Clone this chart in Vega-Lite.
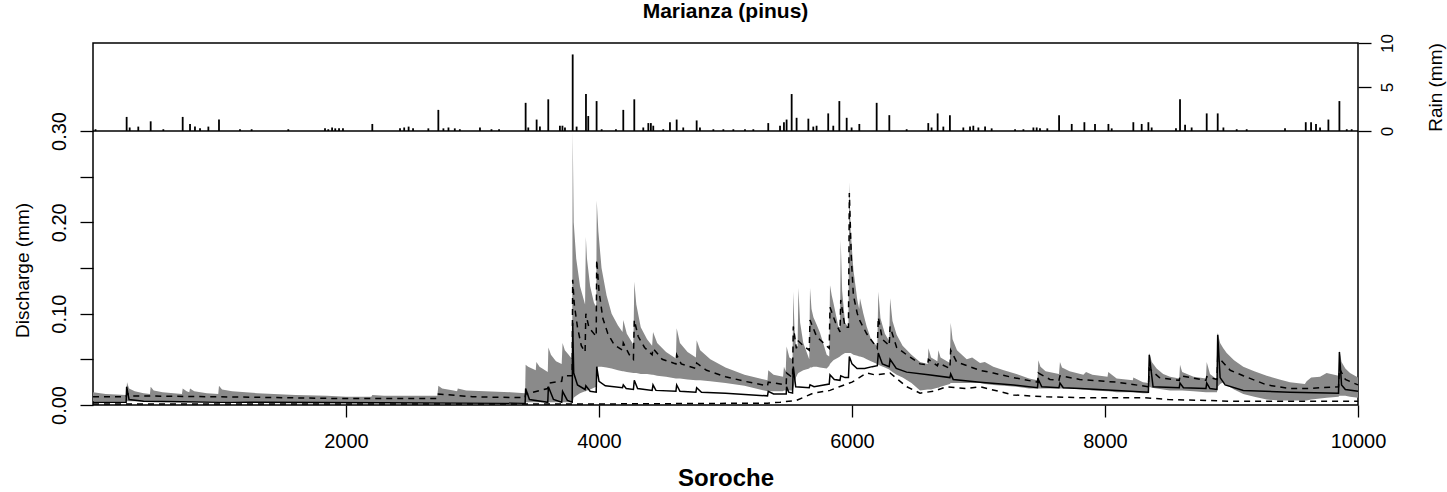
{
  "$schema": "https://vega.github.io/schema/vega-lite/v6.json",
  "width": 1265,
  "height": 362,
  "autosize": "none",
  "padding": {"left": 93, "top": 43, "right": 89, "bottom": 87},
  "background": "white",
  "title": {"text": "Marianza (pinus)", "font": "Liberation Sans", "fontSize": 21, "fontWeight": "bold", "color": "black", "offset": 12, "anchor": "middle"},
  "config": {
    "view": {"stroke": "black", "strokeWidth": 1.5},
    "axis": {"labelFont": "Liberation Sans", "titleFont": "Liberation Sans", "labelColor": "black", "titleColor": "black", "tickColor": "black", "labelFontSize": 20, "titleFontSize": 19, "titleFontWeight": "normal", "grid": false, "domain": false, "tickWidth": 1.3}
  },
  "datasets": {
    "band": [
      {"x": 0, "lo": 0.004, "hi": 0.014}, {"x": 100, "lo": 0.004, "hi": 0.012}, {"x": 262, "lo": 0.004, "hi": 0.011}, {"x": 269, "lo": 0.004, "hi": 0.025}, {"x": 285, "lo": 0.004, "hi": 0.018}, {"x": 330, "lo": 0.004, "hi": 0.015}, {"x": 400, "lo": 0.004, "hi": 0.013}, {"x": 450, "lo": 0.004, "hi": 0.012}, {"x": 456, "lo": 0.004, "hi": 0.02}, {"x": 480, "lo": 0.004, "hi": 0.016}, {"x": 550, "lo": 0.004, "hi": 0.014}, {"x": 703, "lo": 0.004, "hi": 0.012}, {"x": 709, "lo": 0.004, "hi": 0.018}, {"x": 740, "lo": 0.004, "hi": 0.015}, {"x": 761, "lo": 0.004, "hi": 0.014}, {"x": 767, "lo": 0.004, "hi": 0.018}, {"x": 800, "lo": 0.004, "hi": 0.015}, {"x": 900, "lo": 0.004, "hi": 0.013}, {"x": 990, "lo": 0.004, "hi": 0.012}, {"x": 996, "lo": 0.004, "hi": 0.021}, {"x": 1020, "lo": 0.004, "hi": 0.017}, {"x": 1100, "lo": 0.004, "hi": 0.015}, {"x": 1300, "lo": 0.003, "hi": 0.013}, {"x": 1600, "lo": 0.003, "hi": 0.011}, {"x": 1850, "lo": 0.003, "hi": 0.01}, {"x": 2000, "lo": 0.003, "hi": 0.009}, {"x": 2200, "lo": 0.003, "hi": 0.009}, {"x": 2208, "lo": 0.003, "hi": 0.011}, {"x": 2300, "lo": 0.003, "hi": 0.01}, {"x": 2500, "lo": 0.003, "hi": 0.01}, {"x": 2722, "lo": 0.003, "hi": 0.01}, {"x": 2730, "lo": 0.003, "hi": 0.021}, {"x": 2760, "lo": 0.003, "hi": 0.018}, {"x": 2850, "lo": 0.003, "hi": 0.016}, {"x": 2878, "lo": 0.003, "hi": 0.015}, {"x": 2884, "lo": 0.003, "hi": 0.018}, {"x": 2950, "lo": 0.003, "hi": 0.016}, {"x": 3100, "lo": 0.003, "hi": 0.015}, {"x": 3300, "lo": 0.003, "hi": 0.014}, {"x": 3416, "lo": 0.003, "hi": 0.013},
      {"x": 3420, "lo": 0.003, "hi": 0.044}, {"x": 3440, "lo": 0.003, "hi": 0.042}, {"x": 3500, "lo": 0.003, "hi": 0.038}, {"x": 3505, "lo": 0.003, "hi": 0.047}, {"x": 3530, "lo": 0.003, "hi": 0.042}, {"x": 3595, "lo": 0.003, "hi": 0.036}, {"x": 3600, "lo": 0.003, "hi": 0.063}, {"x": 3620, "lo": 0.003, "hi": 0.055}, {"x": 3660, "lo": 0.003, "hi": 0.048}, {"x": 3705, "lo": 0.003, "hi": 0.045}, {"x": 3712, "lo": 0.003, "hi": 0.068}, {"x": 3730, "lo": 0.003, "hi": 0.06}, {"x": 3760, "lo": 0.003, "hi": 0.055}, {"x": 3788, "lo": 0.003, "hi": 0.05}, {"x": 3792, "lo": 0.003, "hi": 0.3}, {"x": 3800, "lo": 0.008, "hi": 0.2}, {"x": 3820, "lo": 0.01, "hi": 0.16}, {"x": 3850, "lo": 0.013, "hi": 0.13}, {"x": 3890, "lo": 0.015, "hi": 0.11}, {"x": 3896, "lo": 0.015, "hi": 0.184}, {"x": 3905, "lo": 0.016, "hi": 0.16}, {"x": 3930, "lo": 0.017, "hi": 0.13}, {"x": 3960, "lo": 0.019, "hi": 0.112}, {"x": 3978, "lo": 0.02, "hi": 0.107}, {"x": 3982, "lo": 0.04, "hi": 0.224}, {"x": 3995, "lo": 0.042, "hi": 0.19}, {"x": 4020, "lo": 0.042, "hi": 0.15}, {"x": 4060, "lo": 0.041, "hi": 0.12}, {"x": 4100, "lo": 0.04, "hi": 0.1}, {"x": 4150, "lo": 0.038, "hi": 0.087}, {"x": 4186, "lo": 0.037, "hi": 0.08}, {"x": 4192, "lo": 0.037, "hi": 0.093}, {"x": 4220, "lo": 0.036, "hi": 0.078}, {"x": 4272, "lo": 0.035, "hi": 0.066}, {"x": 4279, "lo": 0.035, "hi": 0.135}, {"x": 4295, "lo": 0.035, "hi": 0.11}, {"x": 4330, "lo": 0.034, "hi": 0.085}, {"x": 4380, "lo": 0.034, "hi": 0.072}, {"x": 4420, "lo": 0.033, "hi": 0.065}, {"x": 4427, "lo": 0.033, "hi": 0.08}, {"x": 4460, "lo": 0.032, "hi": 0.068}, {"x": 4530, "lo": 0.031, "hi": 0.058}, {"x": 4608, "lo": 0.029, "hi": 0.051}, {"x": 4614, "lo": 0.029, "hi": 0.084}, {"x": 4640, "lo": 0.029, "hi": 0.068}, {"x": 4700, "lo": 0.028, "hi": 0.058}, {"x": 4766, "lo": 0.027, "hi": 0.052}, {"x": 4772, "lo": 0.027, "hi": 0.071}, {"x": 4800, "lo": 0.027, "hi": 0.06}, {"x": 4880, "lo": 0.026, "hi": 0.05}, {"x": 5000, "lo": 0.024, "hi": 0.041}, {"x": 5150, "lo": 0.021, "hi": 0.033}, {"x": 5332, "lo": 0.015, "hi": 0.027}, {"x": 5338, "lo": 0.015, "hi": 0.038}, {"x": 5380, "lo": 0.015, "hi": 0.033}, {"x": 5455, "lo": 0.015, "hi": 0.031}, {"x": 5462, "lo": 0.016, "hi": 0.042}, {"x": 5476, "lo": 0.016, "hi": 0.037}, {"x": 5483, "lo": 0.016, "hi": 0.064}, {"x": 5505, "lo": 0.016, "hi": 0.052}, {"x": 5530, "lo": 0.016, "hi": 0.05},
      {"x": 5536, "lo": 0.018, "hi": 0.124}, {"x": 5545, "lo": 0.024, "hi": 0.085}, {"x": 5557, "lo": 0.03, "hi": 0.064}, {"x": 5570, "lo": 0.034, "hi": 0.064}, {"x": 5576, "lo": 0.035, "hi": 0.128}, {"x": 5590, "lo": 0.036, "hi": 0.09}, {"x": 5615, "lo": 0.038, "hi": 0.068}, {"x": 5662, "lo": 0.04, "hi": 0.05}, {"x": 5668, "lo": 0.041, "hi": 0.128}, {"x": 5680, "lo": 0.041, "hi": 0.105}, {"x": 5695, "lo": 0.042, "hi": 0.096}, {"x": 5721, "lo": 0.042, "hi": 0.088}, {"x": 5747, "lo": 0.041, "hi": 0.079}, {"x": 5800, "lo": 0.04, "hi": 0.055}, {"x": 5820, "lo": 0.043, "hi": 0.053}, {"x": 5826, "lo": 0.045, "hi": 0.131}, {"x": 5840, "lo": 0.047, "hi": 0.12}, {"x": 5853, "lo": 0.049, "hi": 0.112}, {"x": 5892, "lo": 0.052, "hi": 0.086}, {"x": 5905, "lo": 0.053, "hi": 0.085}, {"x": 5911, "lo": 0.054, "hi": 0.181}, {"x": 5922, "lo": 0.055, "hi": 0.125}, {"x": 5945, "lo": 0.057, "hi": 0.09}, {"x": 5972, "lo": 0.057, "hi": 0.085}, {"x": 5979, "lo": 0.057, "hi": 0.244}, {"x": 5990, "lo": 0.057, "hi": 0.19}, {"x": 6011, "lo": 0.055, "hi": 0.148}, {"x": 6042, "lo": 0.054, "hi": 0.115}, {"x": 6057, "lo": 0.053, "hi": 0.105}, {"x": 6063, "lo": 0.053, "hi": 0.117}, {"x": 6090, "lo": 0.052, "hi": 0.1}, {"x": 6116, "lo": 0.05, "hi": 0.086}, {"x": 6150, "lo": 0.048, "hi": 0.072}, {"x": 6200, "lo": 0.045, "hi": 0.064}, {"x": 6208, "lo": 0.044, "hi": 0.124}, {"x": 6225, "lo": 0.043, "hi": 0.095}, {"x": 6260, "lo": 0.041, "hi": 0.078}, {"x": 6294, "lo": 0.039, "hi": 0.07}, {"x": 6301, "lo": 0.038, "hi": 0.117}, {"x": 6320, "lo": 0.036, "hi": 0.092}, {"x": 6353, "lo": 0.033, "hi": 0.077}, {"x": 6400, "lo": 0.03, "hi": 0.065}, {"x": 6470, "lo": 0.024, "hi": 0.055}, {"x": 6538, "lo": 0.016, "hi": 0.047}, {"x": 6598, "lo": 0.017, "hi": 0.045}, {"x": 6604, "lo": 0.017, "hi": 0.062}, {"x": 6625, "lo": 0.017, "hi": 0.052}, {"x": 6675, "lo": 0.019, "hi": 0.048}, {"x": 6683, "lo": 0.019, "hi": 0.06}, {"x": 6700, "lo": 0.02, "hi": 0.052}, {"x": 6774, "lo": 0.023, "hi": 0.046}, {"x": 6780, "lo": 0.024, "hi": 0.09}, {"x": 6795, "lo": 0.024, "hi": 0.072}, {"x": 6830, "lo": 0.024, "hi": 0.06}, {"x": 6907, "lo": 0.024, "hi": 0.05}, {"x": 6950, "lo": 0.024, "hi": 0.052}, {"x": 7012, "lo": 0.024, "hi": 0.046}, {"x": 7050, "lo": 0.023, "hi": 0.047}, {"x": 7117, "lo": 0.022, "hi": 0.042}, {"x": 7200, "lo": 0.021, "hi": 0.038}, {"x": 7300, "lo": 0.02, "hi": 0.034}, {"x": 7400, "lo": 0.018, "hi": 0.029}, {"x": 7466, "lo": 0.018, "hi": 0.027}, {"x": 7473, "lo": 0.018, "hi": 0.049}, {"x": 7490, "lo": 0.018, "hi": 0.042}, {"x": 7530, "lo": 0.018, "hi": 0.037}, {"x": 7636, "lo": 0.018, "hi": 0.034}, {"x": 7644, "lo": 0.018, "hi": 0.047}, {"x": 7660, "lo": 0.018, "hi": 0.041}, {"x": 7720, "lo": 0.018, "hi": 0.037}, {"x": 7829, "lo": 0.017, "hi": 0.033}, {"x": 7850, "lo": 0.017, "hi": 0.036}, {"x": 7900, "lo": 0.016, "hi": 0.033}, {"x": 8020, "lo": 0.015, "hi": 0.031}, {"x": 8026, "lo": 0.015, "hi": 0.036}, {"x": 8092, "lo": 0.014, "hi": 0.029}, {"x": 8220, "lo": 0.014, "hi": 0.027}, {"x": 8224, "lo": 0.014, "hi": 0.03}, {"x": 8300, "lo": 0.013, "hi": 0.025}, {"x": 8343, "lo": 0.013, "hi": 0.024}, {"x": 8350, "lo": 0.02, "hi": 0.057}, {"x": 8370, "lo": 0.019, "hi": 0.047}, {"x": 8408, "lo": 0.018, "hi": 0.04}, {"x": 8460, "lo": 0.017, "hi": 0.034}, {"x": 8514, "lo": 0.016, "hi": 0.031}, {"x": 8587, "lo": 0.016, "hi": 0.029}, {"x": 8593, "lo": 0.016, "hi": 0.044}, {"x": 8610, "lo": 0.016, "hi": 0.036}, {"x": 8700, "lo": 0.015, "hi": 0.031}, {"x": 8798, "lo": 0.014, "hi": 0.029}, {"x": 8804, "lo": 0.014, "hi": 0.047}, {"x": 8830, "lo": 0.014, "hi": 0.034}, {"x": 8885, "lo": 0.014, "hi": 0.028}, {"x": 8891, "lo": 0.02, "hi": 0.079}, {"x": 8910, "lo": 0.023, "hi": 0.068}, {"x": 8935, "lo": 0.025, "hi": 0.062}, {"x": 8962, "lo": 0.022, "hi": 0.057}, {"x": 9020, "lo": 0.017, "hi": 0.049}, {"x": 9093, "lo": 0.012, "hi": 0.042}, {"x": 9180, "lo": 0.009, "hi": 0.037}, {"x": 9278, "lo": 0.006, "hi": 0.032}, {"x": 9380, "lo": 0.005, "hi": 0.028}, {"x": 9462, "lo": 0.005, "hi": 0.025}, {"x": 9580, "lo": 0.005, "hi": 0.023}, {"x": 9594, "lo": 0.005, "hi": 0.026}, {"x": 9630, "lo": 0.006, "hi": 0.03}, {"x": 9700, "lo": 0.007, "hi": 0.031}, {"x": 9752, "lo": 0.008, "hi": 0.035}, {"x": 9846, "lo": 0.009, "hi": 0.032}, {"x": 9853, "lo": 0.01, "hi": 0.06}, {"x": 9870, "lo": 0.01, "hi": 0.047}, {"x": 9900, "lo": 0.01, "hi": 0.04}, {"x": 9937, "lo": 0.009, "hi": 0.035}, {"x": 10000, "lo": 0.008, "hi": 0.03}
    ],
    "mid": [
      {"x": 0, "v": 0.009}, {"x": 262, "v": 0.009}, {"x": 269, "v": 0.013}, {"x": 300, "v": 0.01}, {"x": 1000, "v": 0.009}, {"x": 2000, "v": 0.007}, {"x": 2722, "v": 0.007}, {"x": 2730, "v": 0.012}, {"x": 3000, "v": 0.009}, {"x": 3416, "v": 0.008}, {"x": 3420, "v": 0.012}, {"x": 3595, "v": 0.018}, {"x": 3600, "v": 0.024}, {"x": 3705, "v": 0.026}, {"x": 3712, "v": 0.032}, {"x": 3788, "v": 0.032}, {"x": 3792, "v": 0.137}, {"x": 3805, "v": 0.11}, {"x": 3830, "v": 0.085}, {"x": 3860, "v": 0.065}, {"x": 3890, "v": 0.058}, {"x": 3896, "v": 0.1}, {"x": 3920, "v": 0.085}, {"x": 3978, "v": 0.075}, {"x": 3982, "v": 0.159}, {"x": 4000, "v": 0.125}, {"x": 4030, "v": 0.095}, {"x": 4070, "v": 0.078}, {"x": 4120, "v": 0.066}, {"x": 4186, "v": 0.06}, {"x": 4192, "v": 0.068}, {"x": 4240, "v": 0.055}, {"x": 4272, "v": 0.05}, {"x": 4279, "v": 0.093}, {"x": 4310, "v": 0.075}, {"x": 4360, "v": 0.063}, {"x": 4420, "v": 0.055}, {"x": 4427, "v": 0.062}, {"x": 4500, "v": 0.05}, {"x": 4608, "v": 0.045}, {"x": 4614, "v": 0.055}, {"x": 4650, "v": 0.045}, {"x": 4766, "v": 0.04}, {"x": 4772, "v": 0.046}, {"x": 4850, "v": 0.038}, {"x": 5000, "v": 0.031}, {"x": 5150, "v": 0.026}, {"x": 5332, "v": 0.021}, {"x": 5338, "v": 0.025}, {"x": 5480, "v": 0.022}, {"x": 5483, "v": 0.035}, {"x": 5530, "v": 0.03}, {"x": 5536, "v": 0.086}, {"x": 5560, "v": 0.062}, {"x": 5576, "v": 0.07}, {"x": 5615, "v": 0.065}, {"x": 5662, "v": 0.06}, {"x": 5668, "v": 0.093}, {"x": 5720, "v": 0.075}, {"x": 5820, "v": 0.062}, {"x": 5826, "v": 0.107}, {"x": 5870, "v": 0.09}, {"x": 5905, "v": 0.08}, {"x": 5911, "v": 0.115}, {"x": 5945, "v": 0.085}, {"x": 5972, "v": 0.085}, {"x": 5979, "v": 0.232}, {"x": 5995, "v": 0.16}, {"x": 6011, "v": 0.12}, {"x": 6042, "v": 0.1}, {"x": 6063, "v": 0.092}, {"x": 6116, "v": 0.078}, {"x": 6200, "v": 0.062}, {"x": 6208, "v": 0.096}, {"x": 6240, "v": 0.072}, {"x": 6294, "v": 0.065}, {"x": 6301, "v": 0.086}, {"x": 6353, "v": 0.063}, {"x": 6432, "v": 0.055}, {"x": 6538, "v": 0.045}, {"x": 6598, "v": 0.044}, {"x": 6604, "v": 0.05}, {"x": 6675, "v": 0.043}, {"x": 6683, "v": 0.046}, {"x": 6774, "v": 0.04}, {"x": 6780, "v": 0.06}, {"x": 6828, "v": 0.047}, {"x": 7012, "v": 0.038}, {"x": 7117, "v": 0.035}, {"x": 7276, "v": 0.03}, {"x": 7466, "v": 0.025}, {"x": 7473, "v": 0.035}, {"x": 7565, "v": 0.028}, {"x": 7636, "v": 0.027}, {"x": 7644, "v": 0.032}, {"x": 7800, "v": 0.028}, {"x": 8092, "v": 0.025}, {"x": 8343, "v": 0.02}, {"x": 8350, "v": 0.04}, {"x": 8430, "v": 0.03}, {"x": 8587, "v": 0.027}, {"x": 8593, "v": 0.032}, {"x": 8798, "v": 0.027}, {"x": 8804, "v": 0.031}, {"x": 8885, "v": 0.028}, {"x": 8891, "v": 0.053}, {"x": 8990, "v": 0.038}, {"x": 9093, "v": 0.032}, {"x": 9278, "v": 0.022}, {"x": 9460, "v": 0.018}, {"x": 9594, "v": 0.018}, {"x": 9846, "v": 0.02}, {"x": 9853, "v": 0.04}, {"x": 9900, "v": 0.028}, {"x": 10000, "v": 0.022}
    ],
    "sol": [
      {"x": 0, "v": 0.003}, {"x": 262, "v": 0.003}, {"x": 266, "v": 0.02}, {"x": 285, "v": 0.006}, {"x": 400, "v": 0.004}, {"x": 1000, "v": 0.003}, {"x": 3416, "v": 0.002}, {"x": 3420, "v": 0.018}, {"x": 3450, "v": 0.006}, {"x": 3595, "v": 0.003}, {"x": 3600, "v": 0.02}, {"x": 3640, "v": 0.006}, {"x": 3705, "v": 0.003}, {"x": 3712, "v": 0.015}, {"x": 3750, "v": 0.005}, {"x": 3788, "v": 0.003}, {"x": 3792, "v": 0.09}, {"x": 3800, "v": 0.035}, {"x": 3830, "v": 0.022}, {"x": 3890, "v": 0.017}, {"x": 3896, "v": 0.021}, {"x": 3930, "v": 0.015}, {"x": 3978, "v": 0.014}, {"x": 3982, "v": 0.042}, {"x": 4000, "v": 0.026}, {"x": 4050, "v": 0.021}, {"x": 4186, "v": 0.019}, {"x": 4192, "v": 0.022}, {"x": 4215, "v": 0.018}, {"x": 4272, "v": 0.017}, {"x": 4279, "v": 0.027}, {"x": 4305, "v": 0.018}, {"x": 4420, "v": 0.016}, {"x": 4427, "v": 0.022}, {"x": 4450, "v": 0.016}, {"x": 4608, "v": 0.015}, {"x": 4614, "v": 0.022}, {"x": 4640, "v": 0.015}, {"x": 4766, "v": 0.014}, {"x": 4772, "v": 0.019}, {"x": 4810, "v": 0.014}, {"x": 5000, "v": 0.013}, {"x": 5332, "v": 0.01}, {"x": 5338, "v": 0.015}, {"x": 5380, "v": 0.012}, {"x": 5480, "v": 0.012}, {"x": 5483, "v": 0.02}, {"x": 5500, "v": 0.014}, {"x": 5530, "v": 0.013}, {"x": 5536, "v": 0.042}, {"x": 5555, "v": 0.02}, {"x": 5662, "v": 0.019}, {"x": 5668, "v": 0.022}, {"x": 5700, "v": 0.02}, {"x": 5820, "v": 0.023}, {"x": 5826, "v": 0.033}, {"x": 5860, "v": 0.028}, {"x": 5905, "v": 0.027}, {"x": 5911, "v": 0.032}, {"x": 5945, "v": 0.03}, {"x": 5972, "v": 0.03}, {"x": 5979, "v": 0.053}, {"x": 6000, "v": 0.045}, {"x": 6040, "v": 0.04}, {"x": 6100, "v": 0.04}, {"x": 6160, "v": 0.042}, {"x": 6200, "v": 0.043}, {"x": 6208, "v": 0.057}, {"x": 6240, "v": 0.045}, {"x": 6294, "v": 0.042}, {"x": 6301, "v": 0.05}, {"x": 6350, "v": 0.04}, {"x": 6432, "v": 0.036}, {"x": 6604, "v": 0.033}, {"x": 6774, "v": 0.03}, {"x": 6780, "v": 0.034}, {"x": 6800, "v": 0.028}, {"x": 7012, "v": 0.025}, {"x": 7276, "v": 0.022}, {"x": 7466, "v": 0.019}, {"x": 7473, "v": 0.028}, {"x": 7500, "v": 0.02}, {"x": 7636, "v": 0.019}, {"x": 7644, "v": 0.024}, {"x": 7670, "v": 0.019}, {"x": 7803, "v": 0.018}, {"x": 8092, "v": 0.016}, {"x": 8343, "v": 0.014}, {"x": 8350, "v": 0.055}, {"x": 8380, "v": 0.02}, {"x": 8587, "v": 0.019}, {"x": 8593, "v": 0.024}, {"x": 8620, "v": 0.019}, {"x": 8798, "v": 0.018}, {"x": 8804, "v": 0.024}, {"x": 8830, "v": 0.018}, {"x": 8885, "v": 0.017}, {"x": 8891, "v": 0.077}, {"x": 8910, "v": 0.03}, {"x": 8950, "v": 0.022}, {"x": 9093, "v": 0.016}, {"x": 9462, "v": 0.014}, {"x": 9846, "v": 0.013}, {"x": 9853, "v": 0.058}, {"x": 9870, "v": 0.022}, {"x": 9900, "v": 0.017}, {"x": 10000, "v": 0.015}
    ],
    "ld": [
      {"x": 0, "v": 0.001}, {"x": 3800, "v": 0.001}, {"x": 5330, "v": 0.002}, {"x": 5431, "v": 0.003}, {"x": 5560, "v": 0.005}, {"x": 5695, "v": 0.013}, {"x": 5826, "v": 0.016}, {"x": 5900, "v": 0.02}, {"x": 6000, "v": 0.025}, {"x": 6116, "v": 0.035}, {"x": 6182, "v": 0.033}, {"x": 6301, "v": 0.035}, {"x": 6432, "v": 0.02}, {"x": 6538, "v": 0.013}, {"x": 6643, "v": 0.015}, {"x": 6749, "v": 0.02}, {"x": 6907, "v": 0.018}, {"x": 7012, "v": 0.02}, {"x": 7276, "v": 0.011}, {"x": 7539, "v": 0.009}, {"x": 7803, "v": 0.008}, {"x": 8316, "v": 0.008}, {"x": 8500, "v": 0.006}, {"x": 8800, "v": 0.005}, {"x": 9000, "v": 0.004}, {"x": 10000, "v": 0.004}
    ],
    "rain": [
      {"x": 20, "r": 0.2}, {"x": 266, "r": 1.6}, {"x": 290, "r": 0.4}, {"x": 358, "r": 0.5}, {"x": 456, "r": 1.1}, {"x": 556, "r": 0.2}, {"x": 709, "r": 1.6}, {"x": 767, "r": 0.8}, {"x": 806, "r": 0.5}, {"x": 846, "r": 0.3}, {"x": 912, "r": 0.5}, {"x": 996, "r": 1.3}, {"x": 1162, "r": 0.2}, {"x": 1254, "r": 0.2}, {"x": 1544, "r": 0.2}, {"x": 1834, "r": 0.3}, {"x": 1860, "r": 0.2}, {"x": 1890, "r": 0.4}, {"x": 1915, "r": 0.3}, {"x": 1945, "r": 0.3}, {"x": 1976, "r": 0.3}, {"x": 2208, "r": 0.8}, {"x": 2427, "r": 0.3}, {"x": 2460, "r": 0.4}, {"x": 2495, "r": 0.5}, {"x": 2530, "r": 0.3}, {"x": 2651, "r": 0.3}, {"x": 2730, "r": 2.4}, {"x": 2770, "r": 0.3}, {"x": 2810, "r": 0.4}, {"x": 2860, "r": 0.3}, {"x": 2900, "r": 0.2}, {"x": 3059, "r": 0.4}, {"x": 3150, "r": 0.2}, {"x": 3210, "r": 0.2}, {"x": 3420, "r": 3.2}, {"x": 3441, "r": 0.4}, {"x": 3507, "r": 1.3}, {"x": 3533, "r": 0.5}, {"x": 3599, "r": 3.6}, {"x": 3691, "r": 0.6}, {"x": 3711, "r": 0.6}, {"x": 3731, "r": 0.4}, {"x": 3792, "r": 8.7}, {"x": 3823, "r": 0.5}, {"x": 3897, "r": 4.2}, {"x": 3915, "r": 1.7}, {"x": 3981, "r": 3.4}, {"x": 4021, "r": 0.2}, {"x": 4134, "r": 0.2}, {"x": 4192, "r": 2.4}, {"x": 4279, "r": 3.6}, {"x": 4350, "r": 0.4}, {"x": 4390, "r": 0.9}, {"x": 4410, "r": 0.9}, {"x": 4429, "r": 0.6}, {"x": 4508, "r": 0.2}, {"x": 4561, "r": 1.0}, {"x": 4614, "r": 1.3}, {"x": 4666, "r": 0.4}, {"x": 4772, "r": 1.2}, {"x": 4798, "r": 0.4}, {"x": 4904, "r": 0.2}, {"x": 4983, "r": 0.2}, {"x": 5062, "r": 0.2}, {"x": 5154, "r": 0.2}, {"x": 5220, "r": 0.2}, {"x": 5338, "r": 0.9}, {"x": 5431, "r": 0.6}, {"x": 5462, "r": 1.0}, {"x": 5483, "r": 1.3}, {"x": 5523, "r": 4.2}, {"x": 5562, "r": 1.5}, {"x": 5655, "r": 1.4}, {"x": 5694, "r": 0.5}, {"x": 5720, "r": 0.6}, {"x": 5812, "r": 2.0}, {"x": 5852, "r": 0.6}, {"x": 5900, "r": 3.4}, {"x": 5958, "r": 1.5}, {"x": 5997, "r": 0.4}, {"x": 6058, "r": 0.8}, {"x": 6195, "r": 3.2}, {"x": 6295, "r": 1.8}, {"x": 6432, "r": 0.2}, {"x": 6603, "r": 0.9}, {"x": 6629, "r": 0.4}, {"x": 6677, "r": 2.0}, {"x": 6722, "r": 0.5}, {"x": 6774, "r": 1.8}, {"x": 6880, "r": 0.4}, {"x": 6933, "r": 0.5}, {"x": 6959, "r": 0.6}, {"x": 6999, "r": 0.4}, {"x": 7052, "r": 0.5}, {"x": 7104, "r": 0.3}, {"x": 7289, "r": 0.2}, {"x": 7355, "r": 0.2}, {"x": 7434, "r": 0.4}, {"x": 7460, "r": 0.4}, {"x": 7486, "r": 0.3}, {"x": 7544, "r": 0.3}, {"x": 7637, "r": 1.8}, {"x": 7737, "r": 0.8}, {"x": 7837, "r": 1.0}, {"x": 7921, "r": 0.8}, {"x": 8027, "r": 0.8}, {"x": 8053, "r": 0.3}, {"x": 8224, "r": 1.0}, {"x": 8290, "r": 0.8}, {"x": 8343, "r": 1.0}, {"x": 8369, "r": 0.4}, {"x": 8561, "r": 0.3}, {"x": 8593, "r": 3.6}, {"x": 8633, "r": 0.7}, {"x": 8685, "r": 0.4}, {"x": 8804, "r": 2.0}, {"x": 8891, "r": 2.0}, {"x": 8936, "r": 0.4}, {"x": 9041, "r": 0.2}, {"x": 9120, "r": 0.2}, {"x": 9423, "r": 0.3}, {"x": 9587, "r": 1.0}, {"x": 9629, "r": 1.0}, {"x": 9668, "r": 0.8}, {"x": 9700, "r": 0.4}, {"x": 9766, "r": 1.3}, {"x": 9853, "r": 3.4}, {"x": 9911, "r": 0.2}, {"x": 9950, "r": 0.2}
    ]
  },
  "layer": [
    {
      "layer": [
        {
          "data": {"name": "band"},
          "mark": {"type": "area", "color": "#8a8a8a", "opacity": 1},
          "encoding": {
            "x": {"field": "x", "type": "quantitative", "scale": {"domain": [0, 10000], "nice": false, "zero": false},
              "axis": {"orient": "bottom", "values": [2000, 4000, 6000, 8000, 10000], "format": "d", "tickSize": 12, "labelPadding": 14, "labelFlush": false, "title": "Soroche", "titleFontSize": 24, "titleFontWeight": "bold", "titlePadding": 15}},
            "y": {"field": "lo", "type": "quantitative", "scale": {"domain": [0, 0.39635], "nice": false, "zero": false},
              "axis": {"orient": "left", "values": [0, 0.05, 0.1, 0.15, 0.2, 0.25, 0.3], "labelExpr": "round(datum.value*100) % 10 == 0 ? format(datum.value, '.2f') : ''", "labelAngle": -90, "labelAlign": "center", "labelBaseline": "bottom", "tickSize": 13, "labelPadding": 11, "title": "Discharge (mm)", "titleAngle": -90, "titleX": -71, "titleY": 227, "titleAlign": "center", "titleBaseline": "middle"}},
            "y2": {"field": "hi"}
          }
        },
        {
          "data": {"name": "mid"},
          "mark": {"type": "line", "color": "black", "strokeWidth": 1.5, "strokeDash": [6, 5]},
          "encoding": {"x": {"field": "x", "type": "quantitative"}, "y": {"field": "v", "type": "quantitative"}}
        },
        {
          "data": {"name": "ld"},
          "mark": {"type": "line", "color": "black", "strokeWidth": 1.5, "strokeDash": [6, 5]},
          "encoding": {"x": {"field": "x", "type": "quantitative"}, "y": {"field": "v", "type": "quantitative"}}
        },
        {
          "data": {"name": "sol"},
          "mark": {"type": "line", "color": "black", "strokeWidth": 1.5},
          "encoding": {"x": {"field": "x", "type": "quantitative"}, "y": {"field": "v", "type": "quantitative"}}
        }
      ]
    },
    {
      "layer": [
        {
          "data": {"name": "rain"},
          "mark": {"type": "rule", "color": "black", "strokeWidth": 1.8},
          "encoding": {
            "x": {"field": "x", "type": "quantitative"},
            "y": {"field": "r", "type": "quantitative", "scale": {"domain": [-31.136, 10], "nice": false, "zero": false},
              "axis": {"orient": "right", "values": [0, 5, 10], "labelAngle": -90, "labelAlign": "center", "labelBaseline": "top", "labelFontSize": 17, "tickSize": 13, "labelPadding": 8, "title": "Rain (mm)", "titleAngle": -90, "titleY": 44, "titleX": 77, "titleAlign": "center", "titleBaseline": "middle"}},
            "y2": {"datum": 0}
          }
        },
        {
          "data": {"values": [{"z": 0}]},
          "mark": {"type": "rule", "color": "black", "strokeWidth": 1.5},
          "encoding": {"y": {"field": "z", "type": "quantitative"}}
        }
      ]
    }
  ],
  "resolve": {"scale": {"y": "independent"}, "axis": {"y": "independent"}}
}
